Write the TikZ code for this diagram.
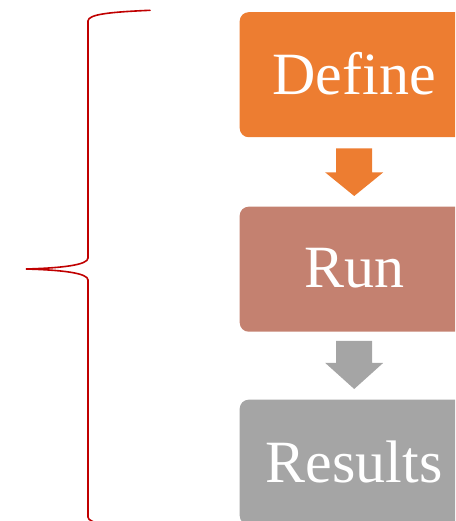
\documentclass[tikz,border=0pt]{standalone}
\usepackage{fontspec}
\setmainfont{Liberation Serif}
\usetikzlibrary{calc}
\definecolor{cOrange}{HTML}{ED7D31}
\definecolor{cRun}{HTML}{C48170}
\definecolor{cGray}{HTML}{A5A5A5}
\definecolor{cBrace}{HTML}{C00000}
\tikzset{
  stepbox/.style={rounded corners=9pt, minimum width=229pt, minimum height=125pt,
    inner sep=0pt, text=white, font=\fontsize{60}{72}\selectfont, anchor=north west},
  bracestyle/.style={draw=cBrace, line width=1.6pt, line cap=round}
}
\begin{document}
\begin{tikzpicture}[x=1pt,y=1pt]
\useasboundingbox (0,0) rectangle (455,-521);
\clip (0,0) rectangle (455,-521);
\node[stepbox, fill=cOrange] (define) at (239.5,-12) {\raisebox{2.5pt}{Define}};
\node[stepbox, fill=cRun] (run) at (239.5,-206.5) {\raisebox{2.5pt}{Run}};
\node[stepbox, fill=cGray] (results) at (239.5,-399.5) {\raisebox{1.5pt}{Results}};
% block arrows between boxes
\fill[cOrange] ($(define.south)+(-18,-11)$) -- ($(define.south)+(18,-11)$)
  -- ($(define.south)+(18,-35)$) -- ($(define.south)+(29,-35)$)
  -- ($(run.north)+(0,10.5)$) -- ($(define.south)+(-29,-35)$)
  -- ($(define.south)+(-18,-35)$) -- cycle;
\fill[cGray] ($(run.south)+(-18,-9)$) -- ($(run.south)+(18,-9)$)
  -- ($(run.south)+(18,-31)$) -- ($(run.south)+(29,-31)$)
  -- ($(results.north)+(0,10.5)$) -- ($(run.south)+(-29,-31)$)
  -- ($(run.south)+(-18,-31)$) -- cycle;
% brace
\coordinate (btop) at (150,-10.3);
\coordinate (btip) at (26,-269);
\coordinate (bbot) at (150,-528);
\draw[bracestyle] (btop) .. controls (112,-12) and (88,-14) .. (88,-21)
  -- (88,-258) .. controls (88,-265) and (62,-268) .. (btip)
  .. controls (62,-270) and (88,-273) .. (88,-280)
  -- (88,-517) .. controls (88,-524) and (112,-526) .. (bbot);
\end{tikzpicture}
\end{document}
